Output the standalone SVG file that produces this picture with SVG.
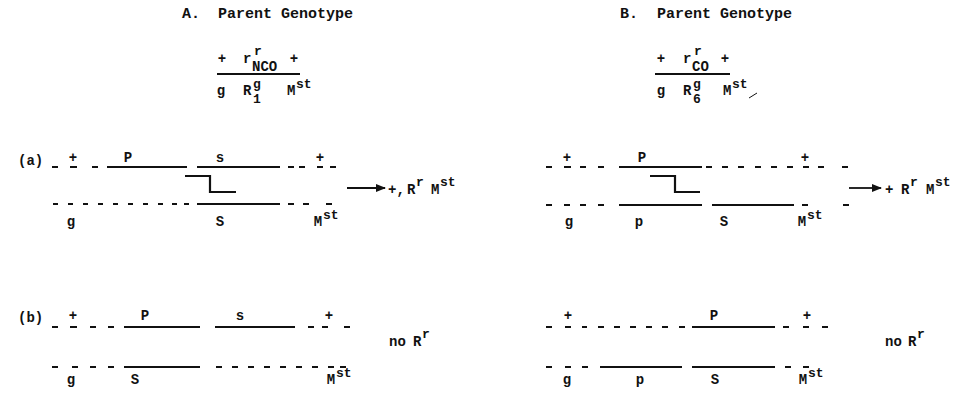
<svg xmlns="http://www.w3.org/2000/svg" width="964" height="393" viewBox="0 0 964 393">
<defs>
<style>
text{font-family:"Liberation Mono","Courier New",monospace;font-size:14px;font-weight:bold;fill:#111}
.h{font-size:15px}
.c{text-anchor:middle}
.sup{font-size:13px}
.solid{stroke:#111;stroke-width:1.8;fill:none}
.dash{stroke:#111;stroke-width:1.8;fill:none}
.step{stroke:#111;stroke-width:2.2;fill:none}
</style>
<marker id="ah" markerWidth="10" markerHeight="8" refX="9" refY="4" orient="auto" markerUnits="userSpaceOnUse">
<path d="M0,0 L10,4 L0,8 Z" fill="#111"/>
</marker>
</defs>

<g id="headerA">
<text class="h" x="182" y="18">A.</text>
<text class="h" x="218" y="18">Parent Genotype</text>
</g>
<g id="headerB">
<text class="h" x="620" y="18">B.</text>
<text class="h" x="657" y="18">Parent Genotype</text>
</g>

<g id="genotypeA">
<text class="c" x="222" y="63">+</text>
<text x="243" y="63">r</text>
<text class="sup" x="254" y="55">r</text>
<text x="252" y="71">NCO</text>
<text class="c" x="294" y="63">+</text>
<line class="solid" x1="217" y1="74" x2="300" y2="74"/>
<text class="c" x="221" y="95">g</text>
<text x="243" y="95">R</text>
<text class="sup" x="253" y="88">g</text>
<text class="sup" x="253" y="103">1</text>
<text x="287" y="95">M</text>
<text class="sup" x="296" y="88">st</text>
</g>

<g id="genotypeB">
<text class="c" x="661" y="63">+</text>
<text x="683" y="63">r</text>
<text class="sup" x="694" y="55">r</text>
<text x="692" y="71">CO</text>
<text class="c" x="725" y="63">+</text>
<line class="solid" x1="655" y1="74" x2="730" y2="74"/>
<text class="c" x="661" y="95">g</text>
<text x="683" y="95">R</text>
<text class="sup" x="693" y="88">g</text>
<text class="sup" x="693" y="103">6</text>
<text x="723" y="95">M</text>
<text class="sup" x="732" y="88">st</text>
<line x1="749" y1="98" x2="757" y2="93" stroke="#111" stroke-width="1"/>
</g>

<g id="rowlabels">
<text x="18" y="165">(a)</text>
<text x="18" y="322">(b)</text>
</g>

<g id="Aa">
<text class="c" x="73" y="162">+</text>
<text class="c" x="128" y="162">P</text>
<text class="c" x="220" y="162">s</text>
<text class="c" x="320" y="162">+</text>
<text class="c" x="71" y="226">g</text>
<text class="c" x="220" y="226">S</text>
<text class="c" x="318" y="226">M</text>
<text class="sup" x="323" y="219">st</text>
</g>

<g id="Ab">
<text class="c" x="73" y="320">+</text>
<text class="c" x="145" y="320">P</text>
<text class="c" x="240" y="320">s</text>
<text class="c" x="329" y="320">+</text>
<text class="c" x="71" y="384">g</text>
<text class="c" x="135" y="384">S</text>
<text class="c" x="331" y="384">M</text>
<text class="sup" x="336" y="377">st</text>
</g>

<g id="Ba">
<text class="c" x="567" y="162">+</text>
<text class="c" x="642" y="162">P</text>
<text class="c" x="805" y="162">+</text>
<text class="c" x="569" y="226">g</text>
<text class="c" x="639" y="226">p</text>
<text class="c" x="724" y="226">S</text>
<text class="c" x="802" y="226">M</text>
<text class="sup" x="807" y="219">st</text>
</g>

<g id="Bb">
<text class="c" x="568" y="320">+</text>
<text class="c" x="714" y="320">P</text>
<text class="c" x="807" y="320">+</text>
<text class="c" x="567" y="384">g</text>
<text class="c" x="640" y="384">p</text>
<text class="c" x="715" y="384">S</text>
<text class="c" x="803" y="384">M</text>
<text class="sup" x="808" y="377">st</text>
</g>

<g id="resultA">
<text x="388" y="194">+,</text>
<text x="407" y="194">R</text>
<text class="sup" x="416" y="186">r</text>
<text x="431" y="194">M</text>
<text class="sup" x="440" y="186">st</text>
</g>
<g id="resultB">
<text x="885" y="194">+</text>
<text x="901" y="194">R</text>
<text class="sup" x="910" y="186">r</text>
<text x="926" y="194">M</text>
<text class="sup" x="935" y="186">st</text>
</g>
<g id="noA">
<text x="389" y="346">no</text>
<text x="413" y="346">R</text>
<text class="sup" x="422" y="338">r</text>
</g>
<g id="noB">
<text x="885" y="346">no</text>
<text x="908" y="346">R</text>
<text class="sup" x="917" y="338">r</text>
</g>

<g id="connectors">
<!-- A (a) -->
<path class="dash" d="M52,167h6 M70,167h7 M92,167h6 M288,167h6 M299,167h6 M317,167h6 M330,167h6"/>
<path class="solid" d="M107,167H187 M197,167H280"/>
<path class="dash" d="M53,204h5 M68,204h5 M83,204h5 M98,204h5 M113,204h5 M128,204h5 M143,204h5 M158,204h5 M172,204h5 M184,204h5 M288,204h6 M303,204h6 M326,204h6"/>
<path class="solid" d="M197,204H280"/>
<path class="step" d="M185,176H210V192H236"/>
<line class="solid" x1="347" y1="188" x2="385" y2="188" marker-end="url(#ah)"/>
<!-- B (a) -->
<path class="dash" d="M546,167h6 M564,167h7 M580,167h6 M598,167h6 M706,167h6 M722,167h6 M738,167h6 M755,167h6 M771,167h6 M787,167h6 M803,167h6 M818,167h6 M842,167h6"/>
<path class="solid" d="M619,167H702"/>
<path class="dash" d="M546,205h6 M564,205h6 M580,205h6 M598,205h6 M802,205h6 M843,205h6"/>
<path class="solid" d="M619,205H702 M712,205H794"/>
<path class="step" d="M650,176H675V192H700"/>
<line class="solid" x1="849" y1="188" x2="881" y2="188" marker-end="url(#ah)"/>
<!-- A (b) -->
<path class="dash" d="M52,327h6 M70,327h7 M90,327h6 M108,327h6 M308,327h6 M322,327h6 M344,327h6"/>
<path class="solid" d="M124,327H200 M215,327H295"/>
<path class="dash" d="M52,367h6 M72,367h6 M90,367h6 M108,367h6 M216,367h6 M232,367h6 M248,367h6 M264,367h6 M280,367h6 M296,367h6 M312,367h6 M328,367h6 M340,367h6"/>
<path class="solid" d="M124,367H200"/>
<!-- B (b) -->
<path class="dash" d="M546,327h6 M565,327h6 M582,327h5 M598,327h6 M614,327h6 M630,327h6 M646,327h6 M662,327h6 M679,327h6 M783,327h6 M803,327h6 M822,327h6"/>
<path class="solid" d="M692,327H775"/>
<path class="dash" d="M546,367h6 M565,367h6 M582,367h6 M785,367h6 M803,367h6"/>
<path class="solid" d="M600,367H682 M692,367H775"/>
</g>
</svg>
